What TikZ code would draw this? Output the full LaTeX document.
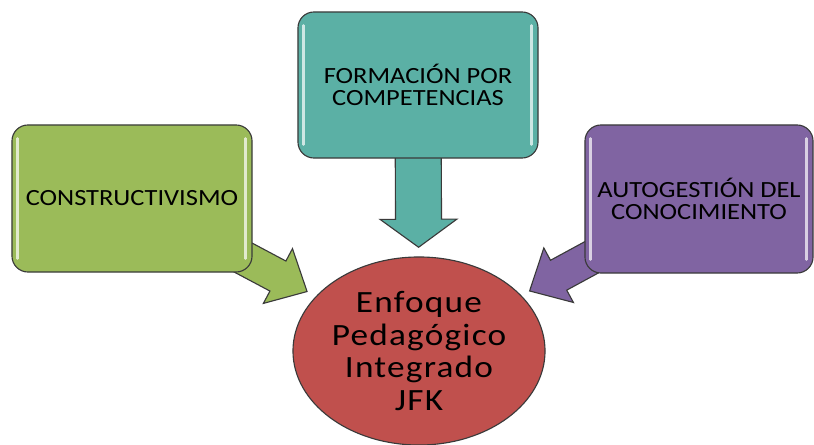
\documentclass[tikz,border=0pt]{standalone}
\usepackage{fontspec}
\setmainfont{Carlito}[FakeStretch=1.14]
\usetikzlibrary{calc,backgrounds,shapes.geometric}
\definecolor{boxgreen}{HTML}{9BBB59}
\definecolor{boxteal}{HTML}{5BB0A5}
\definecolor{boxpurple}{HTML}{8064A2}
\definecolor{boxred}{HTML}{C0504D}
\definecolor{edgegray}{HTML}{3A3A3A}
\def\blockarrow[#1](#2)(#3)(#4:#5:#6){%
	\coordinate (#3neck) at ($(#3)!#6!(#2)$);
	\draw[#1] ($(#2)!#4!90:(#3)$) -- ($(#3neck)!#4!90:(#3)$) -- ($(#3neck)!#5!90:(#3)$) -- (#3)
		-- ($(#3neck)!#5!-90:(#3)$) -- ($(#3neck)!#4!-90:(#3)$) -- ($(#2)!#4!-90:(#3)$) -- cycle;}
\begin{document}
\begin{tikzpicture}[x=0.025cm, y=-0.025cm,
	tema/.style={draw=edgegray, line width=0.8pt, rounded corners=0.4cm, align=center, inner sep=0pt, font=\fontsize{16.5}{15.6}\selectfont},
	flecha/.style={draw=edgegray, line width=0.8pt, line join=miter},
	brillo/.style={white, opacity=0.7, line width=1.8pt, line cap=round}]
			%%%%% START %%%%%
			
			\useasboundingbox (0,0) rectangle (814,445);
			
			\node[tema, fill=boxgreen, minimum width=6cm, minimum height=3.675cm] (cons) at (132,198.5) {CONSTRUCTIVISMO};
			\node[tema, fill=boxteal, minimum width=6cm, minimum height=3.65cm] (comp) at (418,85) {FORMACIÓN POR\\COMPETENCIAS};
			\node[tema, fill=boxpurple, minimum width=5.7cm, minimum height=3.7cm] (auto) at (699,199) {AUTOGESTIÓN DEL\\CONOCIMIENTO};
			
			\node[ellipse, draw=edgegray, line width=0.8pt, fill=boxred, minimum width=6.3cm, minimum height=4.7cm, inner sep=0pt, align=center, font=\fontsize{22}{23}\selectfont\addfontfeature{LetterSpace=4}] (jfk) at (419,351) {Enfoque\\Pedagógico\\Integrado\\JFK};
			
			\draw[brillo] ([shift={(6,14)}]cons.north west) -- ([shift={(6,-14)}]cons.south west);
			\draw[brillo] ([shift={(-7,14)}]cons.north east) -- ([shift={(-7,-14)}]cons.south east);
			\draw[brillo] ([shift={(6,14)}]comp.north west) -- ([shift={(6,-14)}]comp.south west);
			\draw[brillo] ([shift={(-7,14)}]comp.north east) -- ([shift={(-7,-14)}]comp.south east);
			\draw[brillo] ([shift={(6,14)}]auto.north west) -- ([shift={(6,-14)}]auto.south west);
			\draw[brillo] ([shift={(-7,14)}]auto.north east) -- ([shift={(-7,-14)}]auto.south east);
			
			\begin{pgfonlayer}{background}
				\coordinate (gtip) at ($(cons.center)!0.61!(jfk.center)$);
				\coordinate (ttip) at ($(comp.center)!0.61!(jfk.center)$);
				\coordinate (ptip) at ($(auto.center)!0.605!(jfk.center)$);
				\blockarrow[flecha, fill=boxgreen](cons.center)(gtip)(0.425cm:0.775cm:0.825cm)
				\blockarrow[flecha, fill=boxteal](comp.center)(ttip)(0.575cm:0.96cm:0.7cm)
				\blockarrow[flecha, fill=boxpurple](auto.center)(ptip)(0.425cm:0.775cm:0.825cm)
			\end{pgfonlayer}
			
			%%%%% END %%%%%
\end{tikzpicture}
\end{document}
